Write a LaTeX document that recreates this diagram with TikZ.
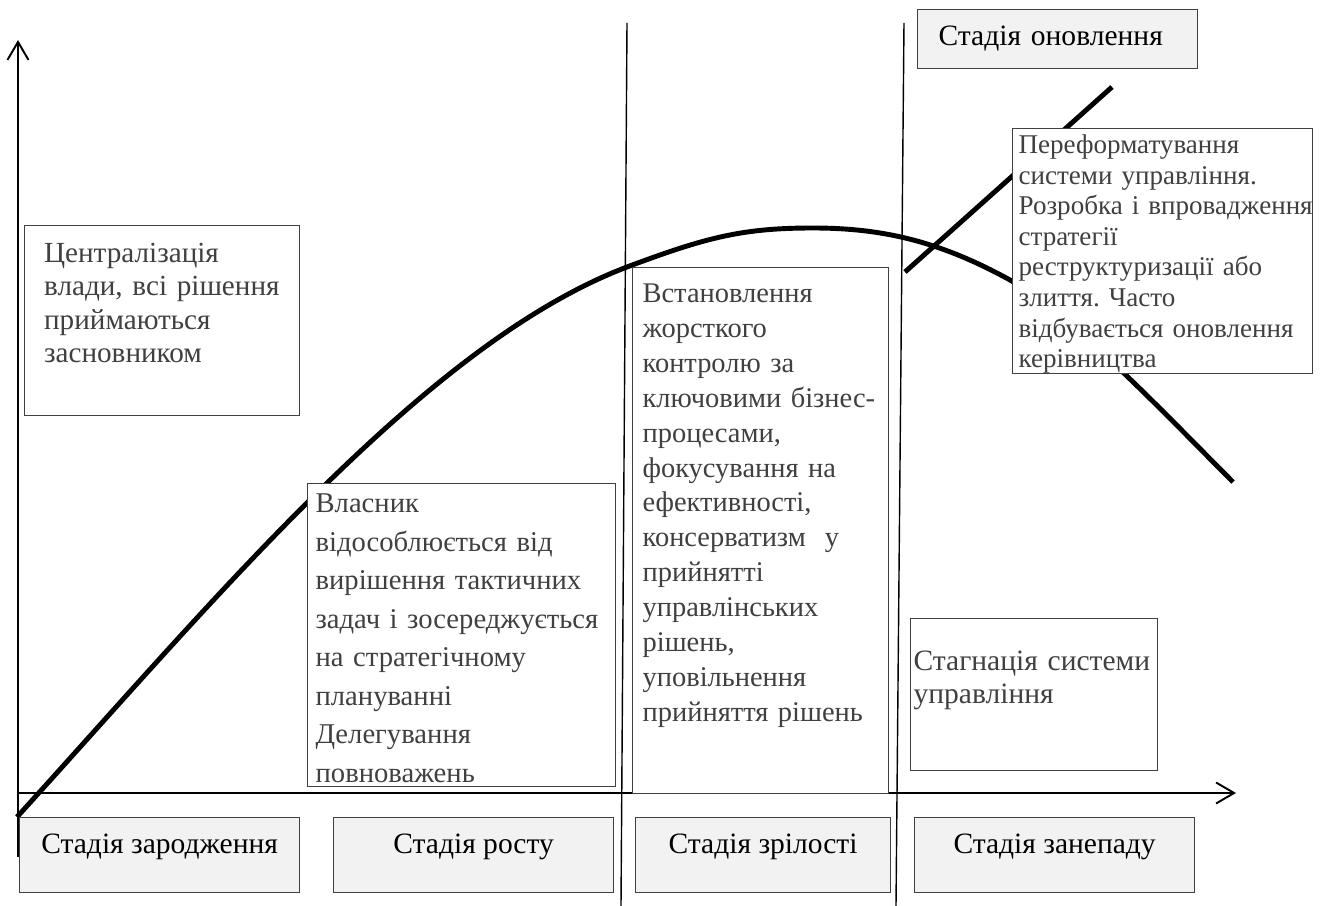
\documentclass[tikz,border=0pt]{standalone}
\usepackage{fontspec}
\setmainfont{Liberation Serif}
\usetikzlibrary{arrows.meta}
\frenchspacing

\definecolor{boxgray}{HTML}{F2F2F2}
\definecolor{edgegray}{HTML}{404040}

\begin{document}
\begin{tikzpicture}[
    % Styles
    axis/.style={-{Straight Barb[length=0.36cm,width=0.42cm]}, line width=1.1pt},
    divider/.style={line width=0.8pt},
    lifecurve/.style={line width=2.8pt},
    descr/.style={draw=edgegray, fill=white, line width=0.7pt, anchor=north west, align=left, inner ysep=0pt, text=edgegray},
    stage/.style={draw=edgegray, fill=boxgray, line width=0.7pt, anchor=north west, inner ysep=0pt, text height=0.72cm, text depth=0.78cm, font=\fontsize{16.8}{19}\selectfont},
]

\useasboundingbox (0,0) rectangle (26.4,18.12);

% Axes
\coordinate (origin) at (0.36,2.26);
\coordinate (ybot) at (0.36,0.98);
\coordinate (ytop) at (0.36,17.32);
\coordinate (xend) at (24.72,2.26);
\draw[axis] (ybot) -- (ytop);
\draw[axis] (origin) -- (xend);

% Stage dividers
\coordinate (div1top) at (12.54,17.66);
\coordinate (div1bot) at (12.42,0);
\coordinate (div2top) at (18.08,17.66);
\coordinate (div2bot) at (17.92,0);
\draw[divider] (div1top) -- (div1bot);
\draw[divider] (div2top) -- (div2bot);

% Life cycle curve
\draw[lifecurve] (0.34,1.78) .. controls (4.34,6.18) and (8.54,11.26) .. (12.54,12.78)
    .. controls (14.14,13.38) and (14.86,13.56) .. (16.26,13.56)
    .. controls (17.66,13.56) and (18.8,13.29) .. (20.2,12.52)
    .. controls (21.4,11.86) and (23.46,9.68) .. (24.66,8.48);

% Renewal branch
\coordinate (renewstart) at (18.1,12.68);
\coordinate (renewend) at (22.24,16.38);
\draw[lifecurve] (renewstart) -- (renewend);

% Descriptions
\node[descr, inner xsep=0.39cm, text width=4.72cm, text height=0.74cm, text depth=3.06cm, font=\fontsize{16.6}{19}\selectfont] (birth-descr) at (0.48,13.62)
    {Централізація\\влади, всі рішення\\приймаються\\засновником};

\node[descr, inner xsep=0.16cm, text width=5.84cm, text height=0.58cm, text depth=5.48cm, font=\fontsize{16.3}{21.9}\selectfont] (growth-descr) at (6.14,8.46)
    {Власник\\відособлюється від\\вирішення тактичних\\задач і зосереджується\\на стратегічному\\плануванні\\Делегування\\повноважень};

\node[descr, inner xsep=0.2cm, text width=4.72cm, text height=0.7cm, text depth=9.82cm, font=\fontsize{16.2}{19.85}\selectfont] (maturity-descr) at (12.64,12.78)
    {Встановлення\\жорсткого\\контролю за\\ключовими бізнес-\\процесами,\\фокусування на\\ефективності,\\консерватизм~ у\\прийнятті\\управлінських\\рішень,\\уповільнення\\прийняття рішень};

\node[descr, inner xsep=0.06cm, text width=4.82cm, text height=1.04cm, text depth=2cm, font=\fontsize{16.8}{18.7}\selectfont] (decline-descr) at (18.2,5.76)
    {Стагнація системи\\управління};

\node[descr, inner xsep=0.12cm, text width=5.76cm, text height=0.5cm, text depth=4.4cm, font=\fontsize{15.4}{17.4}\selectfont] (renewal-descr) at (20.24,15.56)
    {Переформатування\\системи управління.\\Розробка~і~впровадження\\стратегії\\реструктуризації або\\злиття. Часто\\відбувається оновлення\\керівництва};

% Stages
\node[stage, minimum width=5.6cm] (birth) at (0.38,1.78) {Стадія зародження};
\node[stage, minimum width=5.6cm] (growth) at (6.66,1.78) {Стадія росту};
\node[stage, minimum width=5.1cm] (maturity) at (12.7,1.78) {Стадія зрілості};
\node[stage, minimum width=5.6cm] (decline) at (18.28,1.78) {Стадія занепаду};
\node[stage, text width=4.76cm, inner xsep=0.42cm, align=left, text depth=0.46cm] (renewal) at (18.34,17.94) {Стадія оновлення};

\end{tikzpicture}
\end{document}
